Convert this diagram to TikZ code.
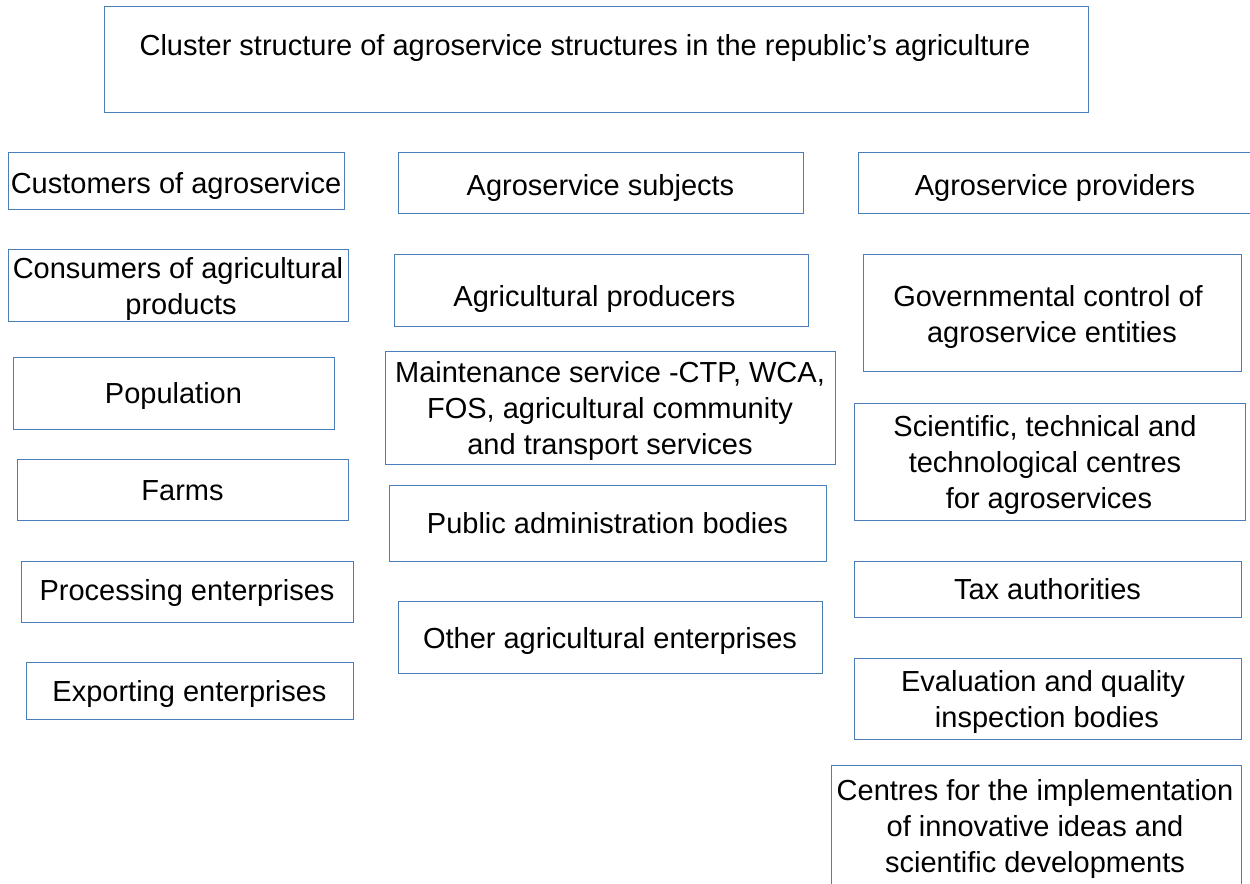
\documentclass[tikz,border=0pt]{standalone}
\usepackage{fontspec}
\setmainfont{Liberation Sans}
\definecolor{boxline}{HTML}{4A7EBB}
\newcommand\bx[8]{%
  \node[box,wh={#4}{#5}] (#1) at (#2,#3) {};
  \node[lbl] (#1-t) at (#2+#6,#3+#7) {#8};}
\begin{document}
\begin{tikzpicture}[x=0.75pt,y=-0.75pt,
  box/.style={draw=boxline,line width=0.75pt,inner sep=0pt},
  wh/.style 2 args={minimum width=#1*0.75pt,minimum height=#2*0.75pt},
  lbl/.style={inner sep=0pt,align=center,font=\fontsize{21.75}{27}\selectfont}]
\useasboundingbox (0,0) rectangle (1250,884);
\clip (0,0) rectangle (1250,884);
\fill[white] (0,0) rectangle (1250,884);
% title
\bx{title}{596}{60}{984}{106}{-11}{-12}{Cluster structure of agroservice structures in the republic’s agriculture}
% column 1
\bx{cust}{176}{181.5}{336}{57}{0}{4.5}{Customers of agroservice}
\bx{cons}{178}{286}{340}{72}{0}{3}{Consumers of agricultural\\\hspace*{4.5pt}products}
\bx{pop}{173.5}{393.5}{321}{71}{0}{3}{Population}
\bx{farms}{182.5}{489.5}{331}{61}{0}{1.5}{Farms}
\bx{proc}{187}{591.5}{332}{61}{0}{2}{Processing enterprises}
\bx{exp}{189.5}{690.5}{327}{57}{0}{3}{Exporting enterprises}
% column 2
\bx{subj}{600.5}{183.5}{405}{61}{0}{5}{Agroservice subjects}
\bx{prod}{601}{291}{414}{72}{-6.5}{8}{Agricultural producers}
\bx{maint}{610}{408}{450}{112}{0}{3}{Maintenance service -CTP, WCA,\\FOS, agricultural community\\and transport services}
\bx{pub}{607.5}{523}{437}{76}{0}{0.5}{Public administration bodies}
\bx{other}{610}{637}{424}{72}{0}{4}{Other agricultural enterprises}
% column 3
\bx{prov}{1055}{183.5}{394}{61}{0}{5}{Agroservice providers}
\bx{gov}{1052}{313.5}{378}{117}{-4}{4}{Governmental control of\\\hspace*{6pt}agroservice entities}
\bx{sci}{1049.5}{461.5}{391}{117}{-4.5}{4}{Scientific, technical and\\technological centres\\\hspace*{6pt}for agroservices}
\bx{tax}{1047.5}{589}{387}{56}{0}{0.5}{Tax authorities}
\bx{eval}{1047.5}{698.5}{387}{81}{-4.5}{3}{Evaluation and quality\\\hspace*{6pt}inspection bodies}
\bx{cent}{1036}{826}{410}{122}{-1}{3}{Centres for the implementation\\of innovative ideas and\\scientific developments}
\end{tikzpicture}
\end{document}
